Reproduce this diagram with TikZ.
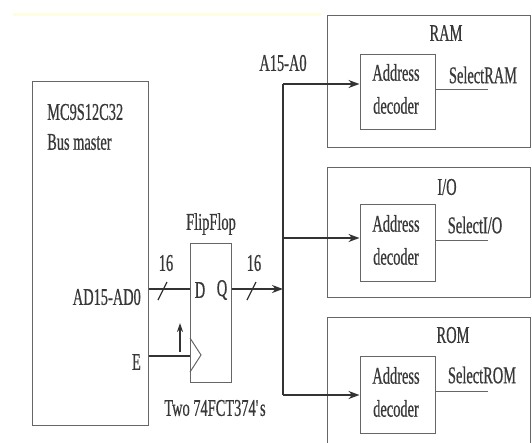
\documentclass[tikz,border=0pt]{standalone}
\usepackage{fontspec}
\setmainfont{Liberation Serif}[FakeStretch=0.6,FakeBold=0.6]
\usetikzlibrary{arrows.meta}
\tikzset{
  box/.style={draw=black!60,line width=1pt,inner sep=0pt},
  bus/.style={draw=black!80,line width=2.2pt},
  lbl/.style={text=black!78,inner sep=0pt,font=\fontsize{24}{33}\selectfont},
  tip/.style={-{Stealth[length=11pt,width=8pt]}}
}
\begin{document}
\begin{tikzpicture}[x=1pt,y=-1pt]
    \useasboundingbox (0,0) rectangle (532,442);
    \clip (0,0) rectangle (532,442);
    \fill[yellow!12] (13,12.5) rectangle (321,15.5);
    \node[box,minimum width=116pt,minimum height=344pt] (mcu) at (90,253) {};
    \node[lbl,anchor=west] (mcuname) at (47,112) {MC9S12C32};
    \node[lbl,anchor=west] (mcurole) at (47,142) {Bus master};
    \node[lbl,anchor=east] (adlbl) at (141,297) {AD15-AD0};
    \node[lbl,anchor=east] (elbl) at (141,362) {E};
    \node[box,minimum width=41pt,minimum height=139pt] (ff) at (210.5,312.5) {};
    \node[lbl] (fflbl) at (211,224) {FlipFlop};
    \node[lbl] (dpin) at (200,290) {D};
    \node[lbl] (qpin) at (222,290) {Q};
    \node[lbl] (partlbl) at (215,408) {Two 74FCT374\textquotesingle s};
    \draw[box] (190,338) -- (201,355) -- (190,372);
    \node[box,minimum width=203pt,minimum height=132pt] (ram) at (428.5,81) {};
    \node[box,minimum width=203pt,minimum height=130pt] (io) at (428.5,232) {};
    \node[box,minimum width=203pt,minimum height=150pt] (rom) at (428.5,392) {};
    \node[lbl] (ramlbl) at (446,33) {RAM};
    \node[lbl] (iolbl) at (447,187) {I/O};
    \node[lbl] (romlbl) at (453,335) {ROM};
    \node[box,minimum width=75pt,minimum height=75pt] (ramdec) at (397.5,91.5) {};
    \node[box,minimum width=75pt,minimum height=77pt] (iodec) at (397.5,242.5) {};
    \node[box,minimum width=75pt,minimum height=77pt] (romdec) at (397.5,394.5) {};
    \node[lbl,align=center] (ramdectxt) at (396,89) {Address\\decoder};
    \node[lbl,align=center] (iodectxt) at (396,240) {Address\\decoder};
    \node[lbl,align=center] (romdectxt) at (396,392) {Address\\decoder};
    \node[lbl] (selram) at (483,75) {SelectRAM};
    \node[lbl] (selio) at (475,225) {SelectI/O};
    \node[lbl] (selrom) at (482,375) {SelectROM};
    \node[lbl] (wleft) at (166,263) {16};
    \node[lbl] (wright) at (254,263) {16};
    \node[lbl] (addrlbl) at (283,63) {A15-A0};
    \coordinate (bustop) at (283,84);
    \coordinate (busmid) at (283,238);
    \coordinate (busbot) at (283,395);
    \coordinate (busin) at (283,289);
    \coordinate (clkup) at (180,323);
    \coordinate (ramout) at (488,89);
    \coordinate (ioout) at (488,240);
    \coordinate (romout) at (488,391);
    \draw[bus] (mcu.east |- busin) -- (ff.west |- busin);
    \draw[bus,tip] (ff.east |- busin) -- (busin);
    \draw[bus] (mcu.east |- 0,356) -- (ff.west |- 0,356);
    \draw[bus] (bustop) -- (busbot);
    \draw[bus,tip] (bustop) -- (ramdec.west |- bustop);
    \draw[bus,tip] (busmid) -- (iodec.west |- busmid);
    \draw[bus,tip] (busbot) -- (romdec.west |- busbot);
    \draw[black!80,line width=1.6pt,-{Stealth[length=9pt,width=6pt]}] (180,352) -- (clkup);
    \draw[black!80,line width=1.2pt] (158,300) -- (167,282);
    \draw[black!80,line width=1.2pt] (247,300) -- (256,282);
    \draw[box] (ramdec.east |- ramout) -- (ramout);
    \draw[box] (iodec.east |- ioout) -- (ioout);
    \draw[box] (romdec.east |- romout) -- (romout);
\end{tikzpicture}
\end{document}
